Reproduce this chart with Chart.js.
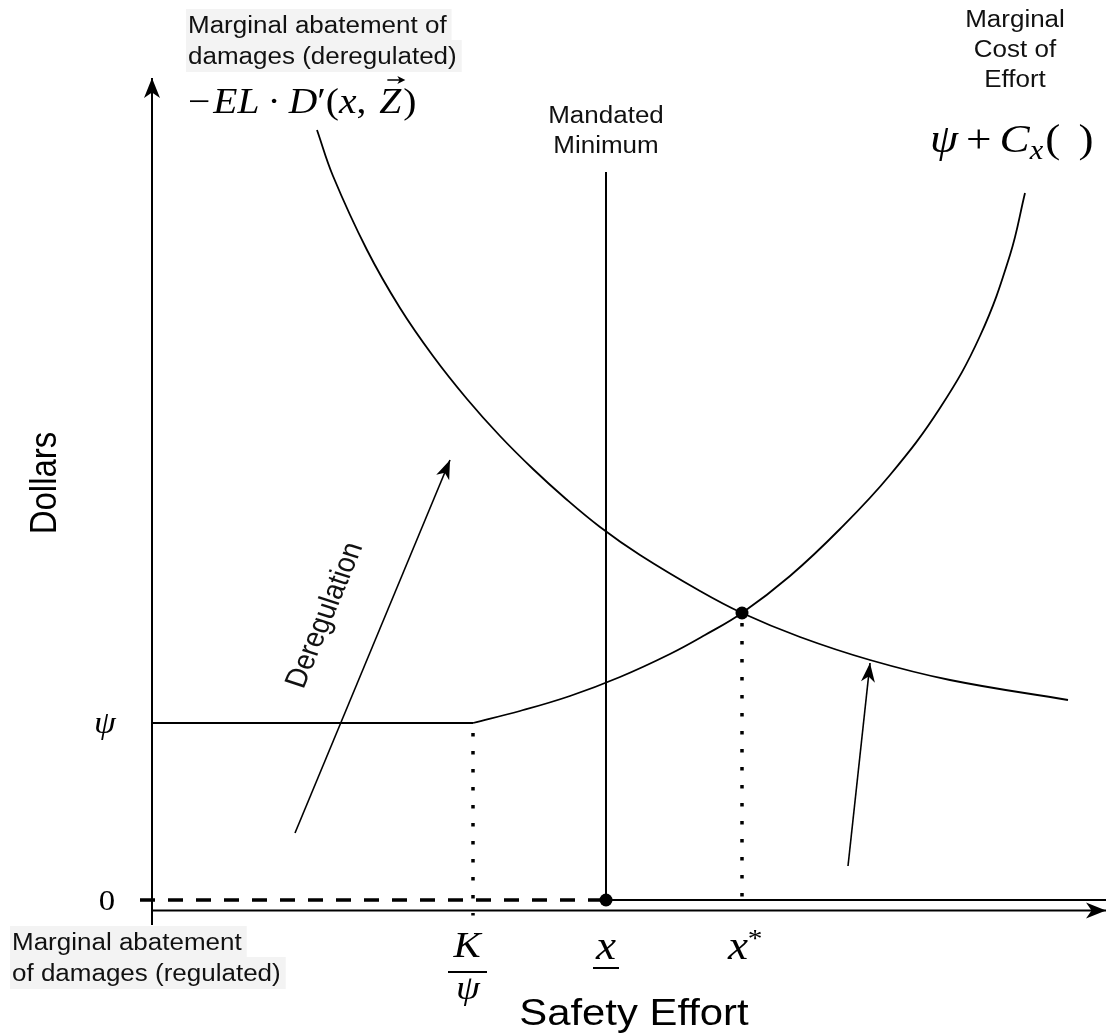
<!DOCTYPE html>
<html>
<head>
<meta charset="utf-8">
<script src="https://cdn.jsdelivr.net/npm/chart.js@4.4.0/dist/chart.umd.min.js"></script>
<style>
  html, body { margin: 0; padding: 0; background: #fff; overflow: hidden; }
  canvas { display: block; }
</style>
</head>
<body>
<canvas id="diagram" width="1107" height="1036"></canvas>
<script>
// x = safety effort, y = dollars (arbitrary units)
const damageX = [1.65, 1.81, 2.15, 2.48, 2.81, 3.15, 3.48, 3.81, 4.14, 4.48, 4.88, 5.48, 5.90, 6.48, 7.18, 7.98, 9.16];
const damageY = [7.70, 7.24, 6.50, 5.92, 5.44, 5.01, 4.64, 4.31, 4.01, 3.73, 3.45, 3.09, 2.87, 2.63, 2.40, 2.20, 2.00];
const costX = [3.21, 3.68, 4.18, 4.68, 5.18, 5.53, 5.90, 6.38, 6.88, 7.38, 7.88, 8.28, 8.58, 8.73];
const costY = [1.77, 1.89, 2.04, 2.23, 2.46, 2.65, 2.87, 3.24, 3.71, 4.25, 4.92, 5.64, 6.45, 7.07];
const psiLevel = 1.77;
const kOverPsi = 3.21;
const mandatedMin = 4.54;
const mandateTop = 7.28;
const xStar = 5.90;
const equilibrium = 2.87;
const deregArrow = [[1.43, 0.67], [2.98, 4.40]];
const shiftArrow = [[6.96, 0.34], [7.18, 2.37]];
const xAxisEnd = 9.54;
const yAxisEnd = 8.22;
const axisY = -0.105;

const ink = '#000';
const SX = 1.13; // the source picture is a bit wider than tall
const SANS = '"Liberation Sans", Arial, sans-serif';
const SERIF = '"Liberation Serif", "Times New Roman", serif';

function pts(list) { return list.map(p => ({ x: p[0], y: p[1] })); }
function zip(xs, ys) { return xs.map((x, i) => ({ x: x, y: ys[i] })); }

const base = { showLine: true, pointRadius: 0, borderColor: ink, backgroundColor: ink, borderWidth: 1.6, fill: false };

function txt(ctx, s, x, y, font, align) {
  ctx.save();
  ctx.font = font;
  ctx.translate(x, y);
  ctx.scale(SX, 1);
  ctx.textAlign = align || 'left';
  ctx.textBaseline = 'alphabetic';
  ctx.fillText(s, 0, 0);
  ctx.restore();
}
function width(ctx, s, font) {
  ctx.save(); ctx.font = font;
  const w = ctx.measureText(s).width * SX;
  ctx.restore();
  return w;
}
function boxedLines(ctx, lines, x, y0, step, font) {
  lines.forEach((s, i) => {
    const y = y0 + i * step;
    ctx.fillStyle = '#f3f3f3';
    ctx.fillRect(x - 2, y - 24, width(ctx, s, font) + 7, step + 1);
  });
  ctx.fillStyle = '#111';
  lines.forEach((s, i) => txt(ctx, s, x, y0 + i * step, font));
}
function mathRun(ctx, parts, x, y) {
  let cx = x;
  parts.forEach(p => {
    const font = (p.it ? 'italic ' : '') + p.size + 'px ' + SERIF;
    cx += p.pre || 0;
    txt(ctx, p.t, cx, y + (p.dy || 0), font);
    p.x0 = cx;
    p.w = width(ctx, p.t, font);
    cx += p.w + (p.post || 0);
  });
  return parts;
}
function arrowHead(ctx, x0, y0, x1, y1, len, half) {
  const a = Math.atan2(y1 - y0, x1 - x0);
  ctx.save();
  ctx.translate(x1, y1);
  ctx.rotate(a);
  ctx.fillStyle = ink;
  ctx.beginPath();
  ctx.moveTo(0, 0);
  ctx.lineTo(-len, -half);
  ctx.lineTo(-len * 0.72, 0);
  ctx.lineTo(-len, half);
  ctx.closePath();
  ctx.fill();
  ctx.restore();
}

const annotations = {
  id: 'annotations',
  afterDatasetsDraw(chart) {
    const ctx = chart.ctx;
    chart.data.datasets.forEach((ds, i) => {
      if (!ds.arrow) return;
      const d = chart.getDatasetMeta(i).data;
      const a = d[d.length - 2], b = d[d.length - 1];
      arrowHead(ctx, a.x, a.y, b.x, b.y, ds.arrow[0], ds.arrow[1]);
    });
  },
  afterDraw(chart) {
    const ctx = chart.ctx;
    const xs = chart.scales.x, ys = chart.scales.y;
    const X = v => xs.getPixelForValue(v), Y = v => ys.getPixelForValue(v);
    ctx.save();
    ctx.fillStyle = '#111';

    // curve labels
    const lab = '23px ' + SANS;
    boxedLines(ctx, ['Marginal abatement of', 'damages (deregulated)'], 188, 33, 31, lab);
    boxedLines(ctx, ['Marginal abatement', 'of damages (regulated)'], 12, 950, 31, lab);
    ctx.fillStyle = '#111';
    ['Marginal', 'Cost of', 'Effort'].forEach((s, i) => txt(ctx, s, 1015, 27 + i * 30, lab, 'center'));
    ['Mandated', 'Minimum'].forEach((s, i) => txt(ctx, s, X(mandatedMin), 123 + i * 30, lab, 'center'));

    // axis titles
    ctx.fillStyle = '#000';
    txt(ctx, 'Safety Effort', 634, 1025, '37px ' + SANS, 'center');
    ctx.save();
    ctx.translate(56, 483);
    ctx.scale(SX, 1);
    ctx.rotate(-Math.PI / 2);
    ctx.font = '33px ' + SANS;
    ctx.textAlign = 'center';
    ctx.fillText('Dollars', 0, 0);
    ctx.restore();

    // Deregulation along the arrow
    const d = chart.getDatasetMeta(chart.data.datasets.findIndex(s => s.label === 'deregulation')).data;
    const ang = Math.atan2(d[1].y - d[0].y, (d[1].x - d[0].x) / SX);
    ctx.save();
    ctx.translate(333, 618);
    ctx.scale(SX, 1);
    ctx.rotate(ang);
    ctx.font = '27px ' + SANS;
    ctx.textAlign = 'center';
    ctx.fillStyle = '#111';
    ctx.fillText('Deregulation', 0, 0);
    ctx.restore();

    // math formulas
    ctx.fillStyle = '#000';
    const s1 = 35;
    const m1 = mathRun(ctx, [
      { t: '\u2212', size: s1, post: 3 }, { t: 'EL', it: true, size: s1, post: 8 },
      { t: '\u00b7', size: s1, post: 8 }, { t: 'D', it: true, size: s1 }, { t: '\u2032', size: s1 },
      { t: '(', size: s1 }, { t: 'x', it: true, size: s1 }, { t: ', ', size: s1, post: 3 },
      { t: 'Z', it: true, size: s1, post: 2 }, { t: ')', size: s1 }
    ], 188, 113);
    const z = m1[8];
    ctx.strokeStyle = ink; ctx.lineWidth = 1.5;
    ctx.beginPath(); ctx.moveTo(z.x0 + 8, 80); ctx.lineTo(z.x0 + z.w + 1, 80); ctx.stroke();
    arrowHead(ctx, z.x0, 80, z.x0 + z.w + 4, 80, 8, 4);

    const s2 = 40;
    mathRun(ctx, [
      { t: '\u03c8', it: true, size: s2, post: 8 }, { t: '+', size: s2, post: 8 },
      { t: 'C', it: true, size: s2 }, { t: 'x', it: true, size: 27, dy: 7, post: 2 },
      { t: '(\u2009\u2009)', size: s2 }
    ], 930, 152);

    // tick labels
    txt(ctx, '0', 107, Y(0) + 10, '29px ' + SERIF, 'center');
    txt(ctx, '\u03c8', 105, Y(psiLevel) + 10, 'italic 31px ' + SERIF, 'center');
    const kx = X(kOverPsi) - 6;
    txt(ctx, 'K', kx, 957, 'italic 36px ' + SERIF, 'center');
    ctx.fillRect(kx - 19, 971, 39, 2);
    txt(ctx, '\u03c8', kx + 1, 999, 'italic 34px ' + SERIF, 'center');
    txt(ctx, 'x', X(mandatedMin), 959, 'italic 40px ' + SERIF, 'center');
    ctx.fillRect(X(mandatedMin) - 13, 967, 26, 2);
    txt(ctx, 'x', X(xStar) - 4, 959, 'italic 40px ' + SERIF, 'center');
    txt(ctx, '*', X(xStar) + 13, 947, '26px ' + SERIF, 'center');
    ctx.restore();
  }
};

new Chart(document.getElementById('diagram'), {
  type: 'scatter',
  data: {
    datasets: [
      { ...base, label: 'y axis', data: pts([[0, -0.25], [0, yAxisEnd]]), borderWidth: 2, arrow: [20, 8] },
      { ...base, label: 'x axis', data: pts([[0, axisY], [xAxisEnd, axisY]]), borderWidth: 2, arrow: [20, 8] },
      { ...base, label: 'regulated abatement', data: pts([[-0.12, 0], [mandatedMin, 0]]), borderWidth: 3.5, borderDash: [15, 13] },
      { ...base, label: 'zero', data: pts([[mandatedMin, 0], [xAxisEnd, 0]]), borderWidth: 2 },
      { ...base, label: 'psi floor', data: pts([[0, psiLevel], [kOverPsi, psiLevel]]), borderWidth: 2 },
      { ...base, label: 'marginal cost', data: zip(costX, costY), tension: 0.4, borderWidth: 1.8 },
      { ...base, label: 'marginal damages', data: zip(damageX, damageY), tension: 0.4, borderWidth: 1.8 },
      { ...base, label: 'mandate', data: pts([[mandatedMin, 0], [mandatedMin, mandateTop]]), borderWidth: 2 },
      { ...base, label: 'k guide', data: pts([[kOverPsi, psiLevel - 0.1], [kOverPsi, axisY - 0.05]]), borderWidth: 3.5, borderDash: [3.5, 14.5] },
      { ...base, label: 'x* guide', data: pts([[xStar, equilibrium - 0.1], [xStar, 0]]), borderWidth: 3.5, borderDash: [3.5, 14.5] },
      { ...base, label: 'deregulation', data: pts(deregArrow), borderWidth: 1.6, arrow: [19, 7] },
      { ...base, label: 'shift', data: pts(shiftArrow), borderWidth: 1.6, arrow: [19, 7] },
      { label: 'dots', data: pts([[xStar, equilibrium], [mandatedMin, 0]]), showLine: false,
        pointRadius: 6.5, pointBackgroundColor: ink, pointBorderWidth: 0 }
    ]
  },
  options: {
    responsive: false,
    animation: false,
    events: [],
    layout: { padding: 0, autoPadding: false },
    plugins: { legend: { display: false }, tooltip: { enabled: false } },
    scales: {
      x: { type: 'linear', min: -1.52, max: 9.55, display: false },
      y: { type: 'linear', min: -1.36, max: 9.00, display: false }
    }
  },
  plugins: [annotations]
});
</script>
</body>
</html>
